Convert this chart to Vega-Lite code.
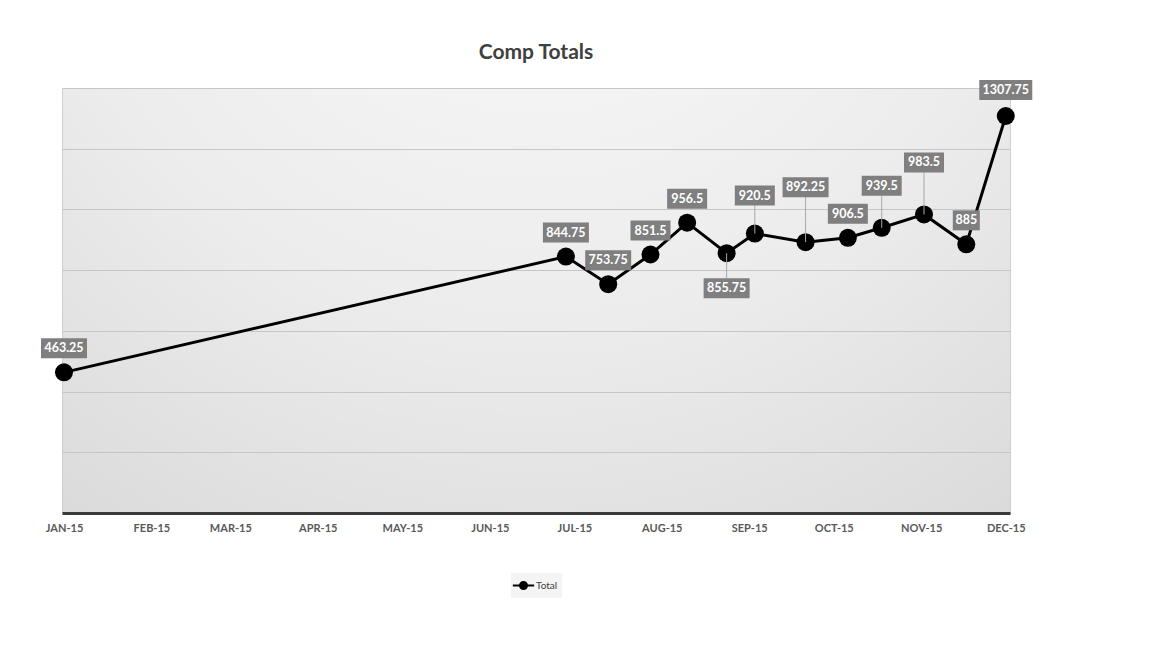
{
  "$schema": "https://vega.github.io/schema/vega-lite/v6.json",
  "width": 948,
  "height": 425,
  "autosize": {"type": "none"},
  "padding": {"left": 62, "top": 88, "right": 146, "bottom": 135},
  "background": "white",
  "title": {"text": "Comp Totals", "font": "Lato", "fontSize": 21, "fontWeight": "bold", "color": "#404040", "anchor": "middle", "offset": 17},
  "config": {
    "view": {
      "fill": {"gradient": "radial", "x1": 0.5, "y1": 0, "r1": 0, "x2": 0.5, "y2": 0, "r2": 1.05, "stops": [{"offset": 0, "color": "#fbfbfb"}, {"offset": 0.5, "color": "#ececec"}, {"offset": 1, "color": "#d2d2d2"}]},
      "stroke": "#cfcfcf"
    },
    "legend": {
      "orient": "none",
      "legendX": 449,
      "legendY": 485,
      "title": null,
      "symbolType": "M-1.5,0H1.5M-0.5,0A0.5,0.5 0 1,1 0.5,0A0.5,0.5 0 1,1 -0.5,0Z",
      "symbolSize": 200,
      "symbolStrokeWidth": 2,
      "symbolFillColor": "black",
      "symbolStrokeColor": "black",
      "labelFont": "Lato",
      "labelFontSize": 10,
      "labelColor": "#404040",
      "padding": 4,
      "fillColor": "#f4f4f4"
    }
  },
  "data": {
    "values": [
      {"Date": "2015-01-01T00:00:00", "Total": 463.25},
      {"Date": "2015-06-28T00:00:00", "Total": 844.75},
      {"Date": "2015-07-13T00:00:00", "Total": 753.75},
      {"Date": "2015-07-28T00:00:00", "Total": 851.5},
      {"Date": "2015-08-10T00:00:00", "Total": 956.5},
      {"Date": "2015-08-24T00:00:00", "Total": 855.75},
      {"Date": "2015-09-03T00:00:00", "Total": 920.5},
      {"Date": "2015-09-21T00:00:00", "Total": 892.25},
      {"Date": "2015-10-06T00:00:00", "Total": 906.5},
      {"Date": "2015-10-18T00:00:00", "Total": 939.5},
      {"Date": "2015-11-02T00:00:00", "Total": 983.5},
      {"Date": "2015-11-17T00:00:00", "Total": 885},
      {"Date": "2015-12-01T00:00:00", "Total": 1307.75}
    ]
  },
  "encoding": {
    "x": {
      "field": "Date",
      "type": "temporal",
      "scale": {"domain": [{"year": 2014, "month": 12, "date": 31, "hours": 7}, {"year": 2015, "month": 12, "date": 2, "hours": 12}]},
      "axis": {
        "title": null,
        "tickCount": {"interval": "month", "step": 1},
        "labelExpr": "upper(timeFormat(datum.value, '%b-%y'))",
        "grid": false,
        "ticks": false,
        "domainColor": "#3a3a3a",
        "domainWidth": 3,
        "labelFont": "Lato",
        "labelFontWeight": "bold",
        "labelFontSize": 11,
        "labelColor": "#595959",
        "labelPadding": 9,
        "labelOverlap": false,
        "labelBound": false,
        "labelFlush": false
      }
    },
    "y": {
      "field": "Total",
      "type": "quantitative",
      "scale": {"domain": [0, 1400]},
      "axis": {
        "title": null,
        "values": [0, 200, 400, 600, 800, 1000, 1200, 1400],
        "labels": false,
        "ticks": false,
        "domain": false,
        "grid": true,
        "gridColor": "#c6c6c6",
        "gridWidth": 1
      }
    }
  },
  "layer": [
    {
      "mark": {"type": "line", "strokeWidth": 3},
      "encoding": {"color": {"datum": "Total", "scale": {"range": ["#000000"]}}}
    },
    {
      "mark": {"type": "point", "filled": true, "size": 324, "opacity": 1, "shape": "circle"},
      "encoding": {"color": {"datum": "Total"}}
    },
    {
      "transform": [{"filter": {"field": "Total", "oneOf": [855.75, 920.5, 892.25, 939.5, 983.5]}}],
      "mark": {"type": "point", "filled": false, "size": 10000, "opacity": 1, "color": "#a8a8a8", "strokeWidth": 1},
      "encoding": {
        "shape": {
          "field": "Total",
          "type": "nominal",
          "legend": null,
          "scale": {
            "domain": [855.75, 920.5, 892.25, 939.5, 983.5],
            "range": ["M0,0V0.5", "M0,0V-0.56", "M0,0V-0.9", "M0,0V-0.64", "M0,0V-0.84"]
          }
        }
      }
    },
    {
      "mark": {"type": "point", "filled": true, "size": 10000, "opacity": 1, "color": "#7f7f7f"},
      "encoding": {
        "shape": {
          "field": "Total",
          "type": "nominal",
          "legend": null,
          "scale": {
            "domain": [463.25, 844.75, 753.75, 851.5, 956.5, 855.75, 920.5, 892.25, 906.5, 939.5, 983.5, 885, 1307.75],
            "range": [
              "M-0.46,-0.68H0.46V-0.28H-0.46Z",
              "M-0.46,-0.68H0.46V-0.28H-0.46Z",
              "M-0.46,-0.68H0.46V-0.28H-0.46Z",
              "M-0.4,-0.68H0.4V-0.28H-0.4Z",
              "M-0.4,-0.68H0.4V-0.28H-0.4Z",
              "M-0.46,0.5H0.46V0.9H-0.46Z",
              "M-0.4,-0.96H0.4V-0.56H-0.4Z",
              "M-0.46,-1.3H0.46V-0.9H-0.46Z",
              "M-0.4,-0.68H0.4V-0.28H-0.4Z",
              "M-0.4,-1.04H0.4V-0.64H-0.4Z",
              "M-0.4,-1.24H0.4V-0.84H-0.4Z",
              "M-0.27,-0.68H0.27V-0.28H-0.27Z",
              "M-0.53,-0.72H0.53V-0.32H-0.53Z"
            ]
          }
        }
      }
    },
    {
      "mark": {
        "type": "text",
        "color": "white",
        "font": "Lato",
        "fontWeight": "bold",
        "fontSize": 12.5,
        "baseline": "middle",
        "align": "center",
        "dy": {"expr": "datum.Total == 855.75 ? 35 : datum.Total == 920.5 ? -38 : datum.Total == 892.25 ? -55 : datum.Total == 939.5 ? -42 : datum.Total == 983.5 ? -52 : datum.Total == 1307.75 ? -26 : -24"}
      },
      "encoding": {"text": {"field": "Total", "type": "quantitative", "format": ".2~f"}}
    }
  ],
  "resolve": {"scale": {"shape": "independent"}}
}
